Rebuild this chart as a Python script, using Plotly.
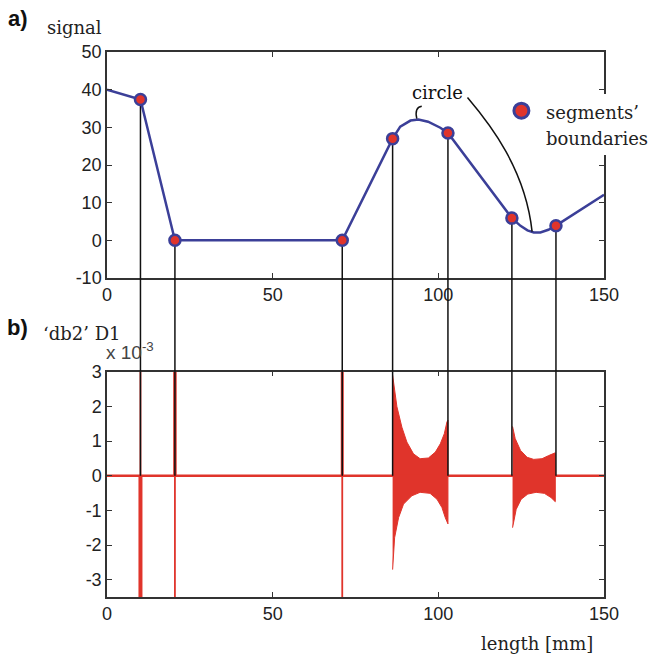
import plotly.graph_objects as go

# ---------------- data ----------------
# a) signal
sig_x = [0, 10.1, 20.5, 71.0, 86.2, 88.5, 91.6, 94.0, 96.9, 100.6, 102.9,
         122.2, 124.8, 126.9, 128.8, 130.8, 133.2, 135.5, 150]
sig_y = [40, 37.4, 0, 0, 27.0, 30.2, 31.8, 32.1, 31.5, 29.9, 28.5,
         5.9, 3.85, 2.65, 2.1, 2.1, 2.8, 3.9, 12.1]

# segments' boundaries
bnd_x = [10.1, 20.5, 71.0, 86.2, 102.9, 122.2, 135.5]
bnd_y = [37.4, 0, 0, 27.0, 28.5, 5.9, 3.9]

# b) 'db2' D1 detail coefficients (x 10^-3)
zero_x = [0, 150]
zero_y = [0, 0]

# spikes at the first three boundaries (values run off the axis)
spike_thin_x = [10.1, 10.1, None, 20.5, 20.5, None, 71.0, 71.0]
spike_thin_y = [-5, 5, None, -5, 5, None, -5, 5]
spike_10_x = [10.1, 10.1]
spike_10_y = [0, -5]
spike_20_x = [20.5, 20.5]
spike_20_y = [0, 5]
spike_71_x = [71.0, 71.0]
spike_71_y = [0, 5]

# oscillation envelopes around the circular arcs
env1_up_x = [86.2, 87.5, 89.0, 90.5, 92.5, 94.5, 97.0, 99.1, 100.6, 101.8, 102.6, 102.9]
env1_up_y = [2.9, 1.99, 1.40, 0.97, 0.63, 0.49, 0.51, 0.68, 0.92, 1.21, 1.55, 1.6]
env1_lo_x = [86.2, 86.8, 88.0, 89.5, 92.0, 94.5, 97.5, 99.6, 101.1, 102.1, 102.9]
env1_lo_y = [-2.71, -1.79, -1.21, -0.82, -0.58, -0.48, -0.51, -0.68, -0.92, -1.21, -1.39]

env2_up_x = [122.4, 123.2, 124.8, 126.8, 128.8, 131.3, 133.3, 134.8, 135.3]
env2_up_y = [1.42, 1.07, 0.73, 0.53, 0.47, 0.49, 0.58, 0.65, 0.66]
env2_lo_x = [122.4, 123.5, 125.0, 127.0, 129.5, 132.0, 134.0, 135.3]
env2_lo_y = [-1.5, -0.97, -0.68, -0.53, -0.48, -0.51, -0.63, -0.75]

x_ticks = [0, 50, 100, 150]
y1_ticks = [-10, 0, 10, 20, 30, 40, 50]
y1_text = ["-10", "0", "10", "20", "30", "40", "50"]
y2_ticks = [-3, -2, -1, 0, 1, 2, 3]
y2_text = ["-3", "-2", "-1", "0", "1", "2", "3"]

legend_lines = ["segments’", "boundaries"]

# ---------------- styling ----------------
BLUE = "#3b3f98"
RED = "#e0342b"
AX = "#333333"
SERIF = "DejaVu Serif"
SANS = "Liberation Sans"

TOP_DOM = [0.5853, 1.0]
BOT_DOM = [0.0, 0.4134]

fig = go.Figure()

# top: signal
fig.add_trace(go.Scatter(x=sig_x, y=sig_y, mode="lines",
                         line=dict(color=BLUE, width=2.5),
                         xaxis="x", yaxis="y", showlegend=False, hoverinfo="skip"))
fig.add_trace(go.Scatter(x=bnd_x, y=bnd_y, mode="markers",
                         marker=dict(size=11, color=RED, line=dict(color=BLUE, width=2.5)),
                         xaxis="x", yaxis="y", showlegend=False))

# bottom: envelopes
for ux, uy, lx, ly in [(env1_up_x, env1_up_y, env1_lo_x, env1_lo_y),
                       (env2_up_x, env2_up_y, env2_lo_x, env2_lo_y)]:
    fig.add_trace(go.Scatter(x=ux + lx[::-1], y=uy + ly[::-1], mode="lines",
                             fill="toself", fillcolor=RED,
                             line=dict(color=RED, width=1),
                             xaxis="x2", yaxis="y2", showlegend=False, hoverinfo="skip"))
# zero line and spikes
fig.add_trace(go.Scatter(x=zero_x, y=zero_y, mode="lines", line=dict(color=RED, width=2.5),
                         xaxis="x2", yaxis="y2", showlegend=False, hoverinfo="skip"))
fig.add_trace(go.Scatter(x=spike_thin_x, y=spike_thin_y, mode="lines",
                         line=dict(color=RED, width=1.8),
                         xaxis="x2", yaxis="y2", showlegend=False, hoverinfo="skip"))
for sx, sy, w in [(spike_10_x, spike_10_y, 4), (spike_20_x, spike_20_y, 3.5), (spike_71_x, spike_71_y, 3)]:
    fig.add_trace(go.Scatter(x=sx, y=sy, mode="lines", line=dict(color=RED, width=w),
                             xaxis="x2", yaxis="y2", showlegend=False, hoverinfo="skip"))

# connector lines from the boundaries down to the zero line of b)
shapes = []
for bx, by in zip(bnd_x, bnd_y):
    shapes.append(dict(type="line", xref="x", yref="y", x0=bx, x1=bx, y0=by, y1=-10,
                       line=dict(color="#111", width=1.5), layer="below"))
    shapes.append(dict(type="line", xref="x", yref="paper", x0=bx, x1=bx,
                       y0=TOP_DOM[0], y1=BOT_DOM[1], line=dict(color="#111", width=1.5)))
    shapes.append(dict(type="line", xref="x2", yref="y2", x0=bx, x1=bx, y0=3, y1=0,
                       line=dict(color="#111", width=1.5), layer="above"))

# "circle" leader curves (data coords of panel a)
shapes.append(dict(type="path", xref="x", yref="y",
                   path="M 108.8,37.9 C 115.7,30.75 126.3,18.8 128.3,2.3",
                   line=dict(color="#111", width=1.5)))
shapes.append(dict(type="path", xref="x", yref="y",
                   path="M 95.0,35.6 Q 92.7,35.3 93.5,32.3",
                   line=dict(color="#111", width=1.5)))


def px2paper(px, py):
    return (px - 107.3) / 497.0, (597.0 - py) / 545.0


# white patch where the legend interrupts the right axis of a)
shapes.append(dict(type="rect", xref="paper", yref="paper",
                   x0=0.985, x1=1.015, y0=(597 - 155) / 545.0, y1=(597 - 94) / 545.0,
                   fillcolor="white", line=dict(width=0), layer="above"))
# legend symbol
lx, ly = px2paper(521.7, 110.7)
shapes.append(dict(type="circle", xref="paper", yref="paper",
                   xsizemode="pixel", ysizemode="pixel", xanchor=lx, yanchor=ly,
                   x0=-7.5, x1=7.5, y0=-7.5, y1=7.5,
                   fillcolor=RED, line=dict(color=BLUE, width=3), layer="above"))

annotations = []
def add_text(text, px, py, font, xanchor="left", yanchor="middle"):
    x, y = px2paper(px, py)
    annotations.append(dict(text=text, x=x, y=y, xref="paper", yref="paper",
                            xanchor=xanchor, yanchor=yanchor, showarrow=False, font=font))

add_text("<b>a)</b>", 6, 18, dict(family=SANS, size=22, color="#111"))
add_text("signal", 45, 27, dict(family=SERIF, size=18, color="#222"))
add_text("<b>b)</b>", 5, 327, dict(family=SANS, size=22, color="#111"))
add_text("‘db2’ D1", 41, 333, dict(family=SERIF, size=18, color="#222"))
add_text("x 10<sup>-3</sup>", 104, 351, dict(family=SANS, size=19, color="#444"))
add_text("circle", 410, 93, dict(family=SERIF, size=18, color="#111"))
add_text("length [mm]", 479, 643, dict(family=SERIF, size=18, color="#222"))
add_text(legend_lines[0], 544, 112, dict(family=SERIF, size=18, color="#222"))
add_text(legend_lines[1], 544, 138, dict(family=SERIF, size=18, color="#222"))

axis_common = dict(showline=True, linecolor=AX, linewidth=1.5, mirror="ticks",
                   ticks="inside", ticklen=5, tickwidth=1, tickcolor=AX,
                   showgrid=False, zeroline=False,
                   tickfont=dict(family=SANS, size=18, color="#222"))

fig.update_layout(
    width=653, height=658,
    margin=dict(l=107, r=49, t=52, b=61),
    paper_bgcolor="white", plot_bgcolor="white",
    showlegend=False,
    xaxis=dict(domain=[0, 1], anchor="y", range=[0, 150], tickvals=x_ticks, **axis_common),
    yaxis=dict(domain=TOP_DOM, anchor="x", range=[-10, 50], tickvals=y1_ticks,
               ticktext=y1_text, **axis_common),
    xaxis2=dict(domain=[0, 1], anchor="y2", range=[0, 150], tickvals=x_ticks, **axis_common),
    yaxis2=dict(domain=BOT_DOM, anchor="x2", range=[-3.5, 3], tickvals=y2_ticks,
                ticktext=y2_text, **axis_common),
    shapes=shapes,
    annotations=annotations,
)

fig.write_html("out.html", config={"displayModeBar": False},
               post_script="document.body.style.margin='0';")
